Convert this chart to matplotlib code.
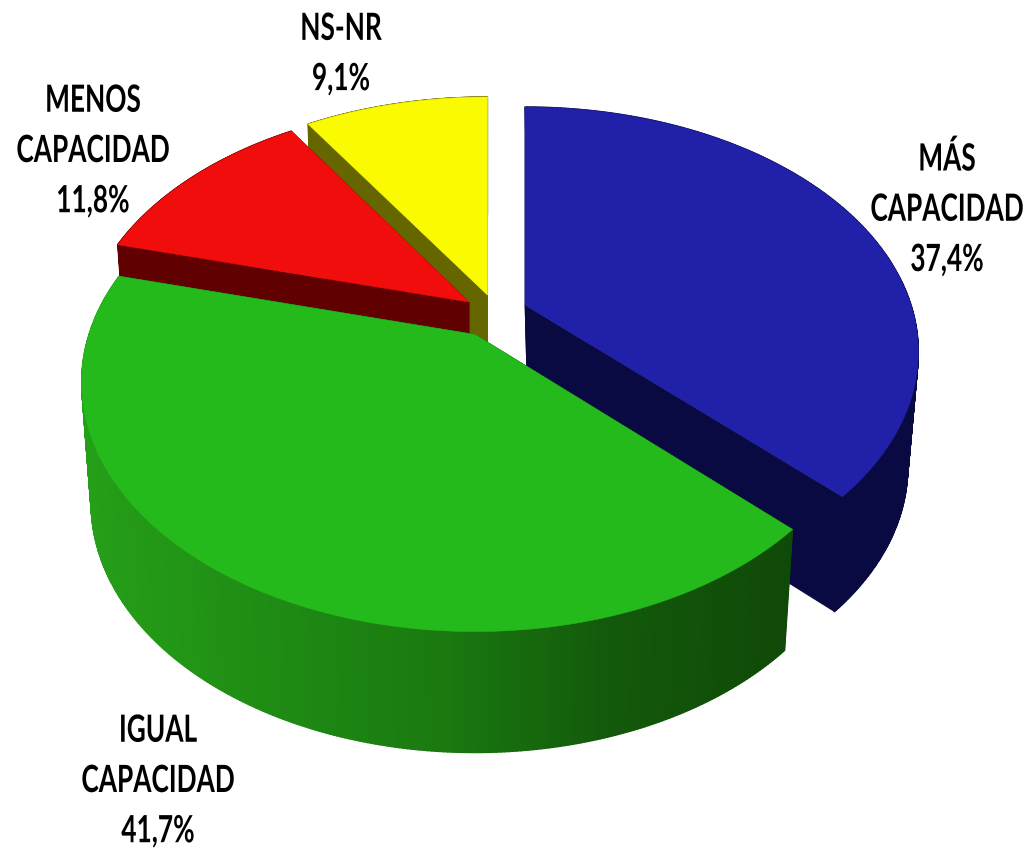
import numpy as np
import matplotlib
matplotlib.use("Agg")
import matplotlib.pyplot as plt
from matplotlib.patches import Polygon
from matplotlib.collections import PolyCollection
from matplotlib.colors import LinearSegmentedColormap
from matplotlib.patheffects import AbstractPathEffect
from matplotlib.text import Text
from matplotlib.transforms import Affine2D, Bbox

# ---- data ----
categories = ["MÁS\nCAPACIDAD", "IGUAL\nCAPACIDAD", "MENOS\nCAPACIDAD", "NS-NR"]
values = [37.4, 41.7, 11.8, 9.1]

# ---- style ----
top_colors = ["#2020A8", "#25BA1C", "#F20D0D", "#FAFA00"]
wall_colors = ["#0A0A42", "#104A08", "#600000", "#666600"]
apexes = [(525, 305), (475, 334.5), (469, 302), (487.5, 295)]
semi_a = [386, 386, 381, 385]
semi_b = [236, 240, 236, 236]
depths = [115, 121, 118, 118]
tapers = [0.0346, 0.0245, 0.0245, 0.0245]
centers_x = [612, 470, 470, 487]
label_pos = [(947, 210), (158, 782), (93, 152), (341, 55)]
layout_x = [915, 158, 112, 341]
K = 0.192
SQUEEZE = 0.70

plt.rcParams["font.family"] = ["Lato", "DejaVu Sans"]
fig = plt.figure(figsize=(10.27, 8.51), dpi=100)
ax = fig.add_axes([0, 0, 1, 1])
ax.set_xlim(0, 1027)
ax.set_ylim(851, 0)
ax.axis("off")


class Squeeze(AbstractPathEffect):
    """Narrow a text's glyphs horizontally about a fixed display x."""

    def __init__(self, cx, sx):
        super().__init__()
        self.cx, self.sx = cx, sx

    def draw_path(self, renderer, gc, tpath, affine, rgbFace=None):
        t = affine + Affine2D().translate(-self.cx, 0).scale(self.sx, 1).translate(self.cx, 0)
        renderer.draw_path(gc, tpath, t, rgbFace)


class NarrowText(Text):
    def __init__(self, x, y, text, cx, sx, **kw):
        super().__init__(x, y, text, **kw)
        self._cx, self._sx = cx, sx

    def get_window_extent(self, renderer=None, dpi=None):
        bb = super().get_window_extent(renderer, dpi)
        c, s = self._cx, self._sx
        return Bbox([[c + (bb.x0 - c) * s, bb.y0], [c + (bb.x1 - c) * s, bb.y1]])


def rim(i, th):
    u, v = np.sin(th), -np.cos(th)
    w = 1 - K * v
    return apexes[i][0] + semi_a[i] * u / w, apexes[i][1] + semi_b[i] * v / w


def lower(i, x, y):
    x = np.asarray(x, float)
    return x + (centers_x[i] - x) * tapers[i], np.asarray(y, float) + depths[i]


edges = np.concatenate([[0], np.cumsum(values)]) / sum(values) * 2 * np.pi
green_map = LinearSegmentedColormap.from_list(
    "wall", ["#259E18", "#1F8C14", "#1A7A10", "#13590B", "#104A08"])

for i in [0, 3, 2, 1]:
    th = np.linspace(edges[i], edges[i + 1], 300)
    xs, ys = rim(i, th)
    ax0, ay0 = apexes[i]
    bx, by = lower(i, xs, ys)
    abx, aby = lower(i, ax0, ay0)
    for k in (0, -1):
        ax.add_patch(Polygon([(ax0, ay0), (xs[k], ys[k]), (bx[k], by[k]), (abx, aby)],
                             closed=True, fc=wall_colors[i], ec=wall_colors[i], lw=0.5))
    quads = [[(xs[j], ys[j]), (xs[j + 1], ys[j + 1]), (bx[j + 1], by[j + 1]), (bx[j], by[j])]
             for j in range(len(th) - 1)]
    if i == 1:
        cols = green_map(np.clip((xs[:-1] - 90) / (790 - 90), 0, 1))
    else:
        cols = [wall_colors[i]] * len(quads)
    ax.add_collection(PolyCollection(quads, facecolors=cols, edgecolors=cols, linewidths=1.0))

for i in [0, 3, 2, 1]:
    th = np.linspace(edges[i], edges[i + 1], 300)
    xs, ys = rim(i, th)
    ax.add_patch(Polygon(np.r_[[apexes[i]], np.c_[xs, ys]], closed=True,
                         fc=top_colors[i], ec=top_colors[i], lw=0.4, zorder=3 + (i == 1)))

for i, (name, val) in enumerate(zip(categories, values)):
    txt = name + "\n" + f"{val:.1f}%".replace(".", ",")
    x, y = label_pos[i]
    cx = (x - SQUEEZE * layout_x[i]) / (1 - SQUEEZE)
    t = NarrowText(layout_x[i], y - 1, txt, cx, SQUEEZE, ha="center", va="center",
                   multialignment="center", fontsize=27, fontweight="bold",
                   color="black", linespacing=1.58, zorder=6)
    ax.add_artist(t)
    t.set_path_effects([Squeeze(cx, SQUEEZE)])

fig.savefig("out.png", dpi=100, facecolor="white")
